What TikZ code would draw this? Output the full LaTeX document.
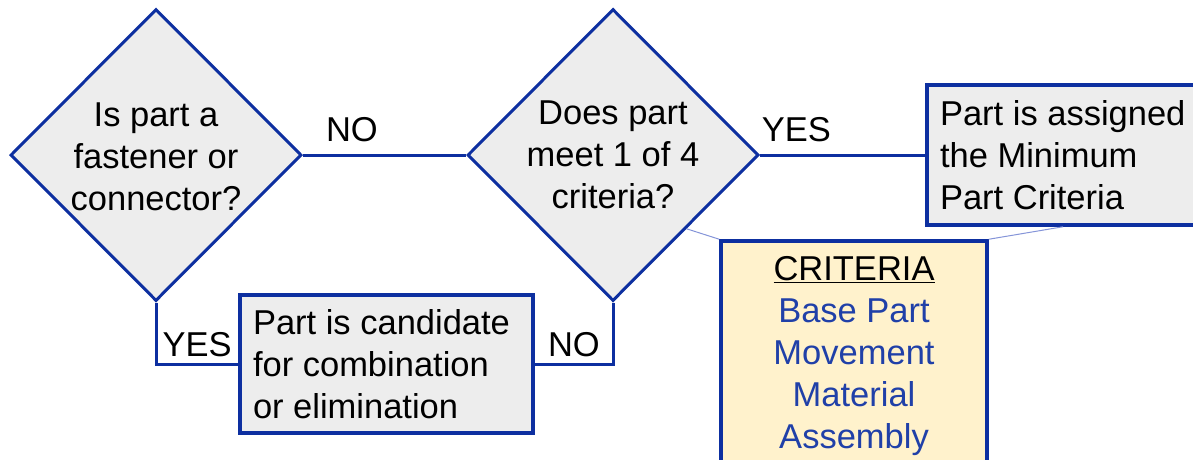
\documentclass[tikz,border=0pt]{standalone}
\usepackage{fontspec}
\setmainfont{Liberation Sans}
\usepackage{xcolor}
\usepackage{tikz}
\usetikzlibrary{shapes.geometric}
\definecolor{lineBlue}{HTML}{0D2FA0}
\definecolor{boxGray}{HTML}{EDEDED}
\definecolor{noteCream}{HTML}{FFF2CC}
\definecolor{itemBlue}{HTML}{2040A8}
\definecolor{noteLine}{HTML}{8494D8}

\begin{document}
\begin{tikzpicture}[
        x=1pt, y=-1pt,
        decisionNode/.style={draw=lineBlue, fill=boxGray, line width=3pt, shape=diamond, aspect=1, inner sep=0pt, minimum width=291pt, minimum height=292pt},
        decisionText/.style={font=\fontsize{34.5}{42}\selectfont, align=center, inner sep=0pt},
        resultBox/.style={draw=lineBlue, fill=boxGray, line width=3.5pt, font=\fontsize{34.5}{42}\selectfont, align=flush left, inner ysep=0pt, inner xsep=13pt},
        criteriaBox/.style={draw=lineBlue, fill=noteCream, line width=3.5pt, font=\fontsize{34.5}{42}\selectfont, align=center, inner sep=0pt},
        flowLine/.style={draw=lineBlue, line width=3pt},
        flowLabel/.style={font=\fontsize{34.5}{42}\selectfont, inner sep=0pt}
    ]
        \useasboundingbox (0,0) rectangle (1193,459);

        % Decisions
        \node[decisionNode, at={(156,155)}] (fastener) {};
        \node[decisionText, at={(156,157)}] (fastenerText) {Is part a\\fastener or\\connector?};

        \node[decisionNode, at={(613,155)}] (meetsCriteria) {};
        \node[decisionText, at={(613,155)}] (meetsText) {Does part\\meet 1 of 4\\criteria?};

        % Results
        \node[resultBox, at={(1069,155)}, minimum height=140pt, text width=258pt] (assigned) {Part is assigned\\the Minimum\\Part Criteria};

        \node[resultBox, at={(386.5,364)}, minimum height=138pt, text width=267pt] (candidate) {Part is candidate\\for combination\\or elimination};

        % Criteria note
        \node[criteriaBox, at={(854,356)}, minimum width=266pt, minimum height=230pt] (criteria) {\underline{CRITERIA}\\\textcolor{itemBlue}{Base Part}\\\textcolor{itemBlue}{Movement}\\\textcolor{itemBlue}{Material}\\\textcolor{itemBlue}{Assembly}};

        % Connectors
        \draw[flowLine] (fastener.east) -- node[flowLabel, pos=0.3, above=12pt] (noTop) {NO} (meetsCriteria.west);
        \draw[flowLine] (meetsCriteria.east) -- node[flowLabel, pos=0.22, above=12pt] (yesTop) {YES} (assigned.west);
        \draw[flowLine] (fastener.south) |- node[flowLabel, pos=0.75, above=6pt] (yesBottom) {YES} (candidate.west);
        \draw[flowLine] (meetsCriteria.south) |- node[flowLabel, pos=0.75, above=6pt] (noBottom) {NO} (candidate.east);

        % Note lines
        \draw[noteLine, line width=1pt] (meetsCriteria.south east) -- (criteria.north west);
        \draw[noteLine, line width=1pt] (criteria.north east) -- ([xshift=-6pt]assigned.south);
    \end{tikzpicture}
\end{document}
